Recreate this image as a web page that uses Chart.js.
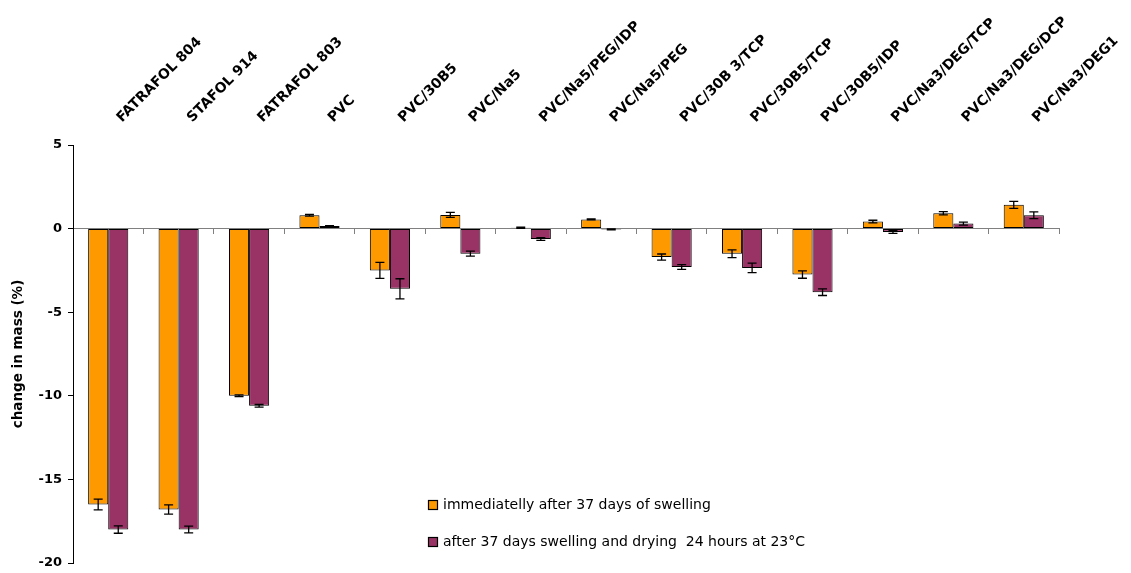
<!DOCTYPE html>
<html>
<head>
<meta charset="utf-8">
<script src="https://cdn.jsdelivr.net/npm/chart.js@4"></script>
<style>
  html, body { margin: 0; padding: 0; background: #ffffff; }
  #contenedor { width: 1131px; height: 573px; }
</style>
</head>
<body>
<div id="contenedor"><canvas id="graficoMasa"></canvas></div>
<script>
// Datos
const categorias = [
  "FATRAFOL 804", "STAFOL 914", "FATRAFOL 803", "PVC", "PVC/30B5", "PVC/Na5",
  "PVC/Na5/PEG/IDP", "PVC/Na5/PEG", "PVC/30B 3/TCP", "PVC/30B5/TCP",
  "PVC/30B5/IDP", "PVC/Na3/DEG/TCP", "PVC/Na3/DEG/DCP", "PVC/Na3/DEG1"
];
const serieInmediata = [-16.5, -16.8, -10.0, 0.8, -2.5, 0.82, 0.05, 0.55, -1.7, -1.5, -2.75, 0.42, 0.92, 1.42];
const serieSecado = [-18.0, -18.0, -10.6, 0.15, -3.6, -1.5, -0.62, -0.05, -2.3, -2.35, -3.8, -0.2, 0.3, 0.8];
const errorInmediata = [0.32, 0.28, 0.05, 0.05, 0.48, 0.15, 0.04, 0.03, 0.18, 0.23, 0.22, 0.08, 0.1, 0.21];
const errorSecado = [0.22, 0.2, 0.08, 0.03, 0.6, 0.15, 0.08, 0.03, 0.14, 0.28, 0.2, 0.08, 0.09, 0.2];
const etiquetasSerie = [
  "immediatelly after 37 days of swelling",
  "after 37 days swelling and drying  24 hours at 23\u00B0C"
];
const ejeYMin = -20;
const ejeYMax = 5;
const ejeYPaso = 5;

const coloresSerie = ["#ff9900", "#993366"];
const errores = [errorInmediata, errorSecado];

// Barras de error dibujadas con las escalas del gráfico
const barrasError = {
  id: "barrasError",
  afterDatasetsDraw: function (chart) {
    const ctx = chart.ctx;
    const escalaY = chart.scales.y;
    ctx.save();
    ctx.strokeStyle = "#000000";
    ctx.lineWidth = 1.3;
    chart.data.datasets.forEach(function (ds, i) {
      const meta = chart.getDatasetMeta(i);
      meta.data.forEach(function (barra, j) {
        const v = ds.data[j];
        const e = errores[i][j];
        const y1 = escalaY.getPixelForValue(v + e);
        const y2 = escalaY.getPixelForValue(v - e);
        const x = barra.x;
        ctx.beginPath();
        ctx.moveTo(x, y1); ctx.lineTo(x, y2);
        ctx.moveTo(x - 4.5, y1); ctx.lineTo(x + 4.5, y1);
        ctx.moveTo(x - 4.5, y2); ctx.lineTo(x + 4.5, y2);
        ctx.stroke();
      });
    });
    ctx.restore();
  }
};

// Leyenda dentro del área del gráfico
const leyendaInterior = {
  id: "leyendaInterior",
  afterDraw: function (chart) {
    const ctx = chart.ctx;
    const area = chart.chartArea;
    ctx.save();
    ctx.font = "14px 'DejaVu Sans'";
    ctx.textBaseline = "middle";
    ctx.textAlign = "left";
    etiquetasSerie.forEach(function (texto, i) {
      const x = area.left + 355;
      const y = area.top + 355 + i * 37;
      ctx.fillStyle = coloresSerie[i];
      ctx.fillRect(x, y, 10, 10);
      ctx.strokeStyle = "#000000";
      ctx.lineWidth = 1.2;
      ctx.strokeRect(x + 0.5, y + 0.5, 9, 9);
      ctx.fillStyle = "#000000";
      ctx.fillText(texto, x + 15, y + 5);
    });
    ctx.restore();
  }
};

new Chart(document.getElementById("graficoMasa"), {
  type: "bar",
  data: {
    labels: categorias,
    datasets: [
      {
        label: etiquetasSerie[0],
        data: serieInmediata,
        backgroundColor: coloresSerie[0],
        borderColor: "#000000",
        borderWidth: 1,
        borderSkipped: false,
        categoryPercentage: 0.57,
        barPercentage: 1.0,
      },
      {
        label: etiquetasSerie[1],
        data: serieSecado,
        backgroundColor: coloresSerie[1],
        borderColor: "#000000",
        borderWidth: 1,
        borderSkipped: false,
        categoryPercentage: 0.57,
        barPercentage: 1.0,
      },
    ],
  },
  options: {
    responsive: true,
    maintainAspectRatio: false,
    animation: false,
    layout: { padding: { left: 0, right: 72, top: 0, bottom: 10 } },
    plugins: {
      legend: { display: false },
      tooltip: { enabled: false },
    },
    scales: {
      x: {
        position: { y: 0 },
        offset: true,
        grid: {
          offset: true,
          drawOnChartArea: false,
          drawTicks: true,
          tickLength: 5,
          color: "#808080",
        },
        border: { color: "#808080", width: 1 },
        ticks: { display: false },
      },
      x2: {
        type: "category",
        labels: categorias,
        position: "top",
        offset: true,
        grid: { display: false },
        border: { display: false },
        ticks: {
          autoSkip: false,
          minRotation: 45,
          maxRotation: 45,
          padding: 11,
          labelOffset: 23,
          color: "#000000",
          font: { family: "'DejaVu Sans'", size: 14, weight: "bold" },
        },
        afterFit: function (escala) { escala.height = 145; },
      },
      y: {
        min: ejeYMin,
        max: ejeYMax,
        ticks: {
          stepSize: ejeYPaso,
          padding: 6,
          color: "#000000",
          font: { family: "'DejaVu Sans'", size: 13, weight: "bold" },
        },
        grid: {
          drawOnChartArea: false,
          drawTicks: true,
          tickLength: 5,
          color: "#000000",
        },
        border: { color: "#000000", width: 1 },
        title: {
          display: true,
          text: "change in mass (%)",
          color: "#000000",
          padding: { top: 10, bottom: 0 },
          font: { family: "'DejaVu Sans'", size: 13.5, weight: "bold" },
        },
        afterFit: function (escala) {
          escala.width = 73;
          escala.paddingTop = 0;
          escala.paddingBottom = 0;
        },
      },
    },
  },
  plugins: [barrasError, leyendaInterior],
});
</script>
</body>
</html>
